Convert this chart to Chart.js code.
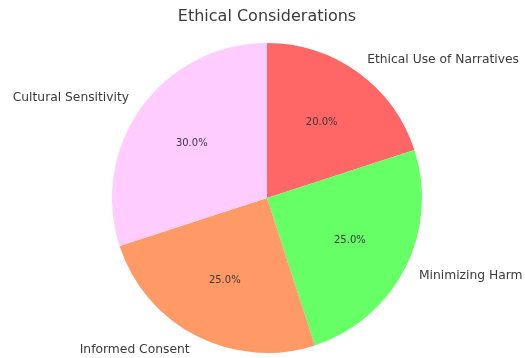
<!DOCTYPE html>
<html lang="en">
  <head>
    <meta charset="UTF-8" />
    <title>Ethical Considerations</title>
    <script src="https://cdn.jsdelivr.net/npm/chart.js"></script>
    <style>
      html, body { margin: 0; padding: 0; background: #fff; }
      #wrap { width: 525px; height: 358px; }
    </style>
  </head>
  <body>
    <div id="wrap"><canvas id="pie"></canvas></div>
    <script>
      // Chart data
      const categories = ["Ethical Use of Narratives", "Minimizing Harm", "Informed Consent", "Cultural Sensitivity"];
      const shares = [20, 25, 25, 30];
      const sliceColors = ["#ff6666", "#66ff66", "#ff9966", "#ffccff"];
      const chartTitle = "Ethical Considerations";

      // Draws title, outer labels and percentages like matplotlib's autopct
      const pieText = {
        id: "pieText",
        afterDraw(chart) {
          const ctx = chart.ctx;
          const total = shares.reduce((a, b) => a + b, 0);
          ctx.save();
          ctx.fillStyle = "#3a3a3a";
          ctx.font = "16px 'DejaVu Sans'";
          ctx.textAlign = "center";
          ctx.textBaseline = "middle";
          ctx.fillText(chartTitle, 267, 17);

          chart.getDatasetMeta(0).data.forEach((arc, i) => {
            const mid = (arc.startAngle + arc.endAngle) / 2;
            const r = arc.outerRadius;
            const cos = Math.cos(mid), sin = Math.sin(mid);
            // category label at 1.1 r
            ctx.font = "12.3px 'DejaVu Sans'";
            ctx.textAlign = cos >= 0 ? "left" : "right";
            ctx.fillText(categories[i], arc.x + cos * r * 1.1, arc.y + sin * r * 1.1);
            // percent at 0.6 r
            ctx.font = "10px 'DejaVu Sans'";
            ctx.textAlign = "center";
            ctx.fillText((shares[i] / total * 100).toFixed(1) + "%", arc.x + cos * r * 0.6, arc.y + sin * r * 0.6);
          });
          ctx.restore();
        },
      };

      new Chart(document.getElementById("pie"), {
        type: "pie",
        data: {
          labels: categories,
          datasets: [{ data: shares, backgroundColor: sliceColors, borderWidth: 0 }],
        },
        options: {
          responsive: true,
          maintainAspectRatio: false,
          animation: false,
          layout: { padding: { top: 43, bottom: 5, left: 112, right: 103 } },
          plugins: { legend: { display: false }, tooltip: { enabled: false } },
        },
        plugins: [pieText],
      });
    </script>
  </body>
</html>
